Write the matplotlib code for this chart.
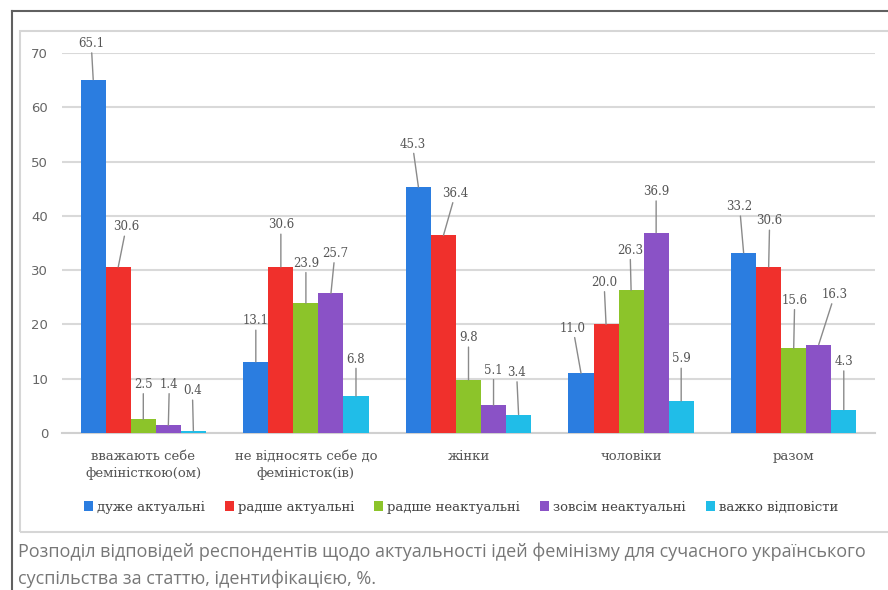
import matplotlib.pyplot as plt
import numpy as np
from matplotlib.lines import Line2D
from matplotlib.patches import Rectangle

groups = ['вважають себе\nфеміністкою(ом)', 'не відносять себе до\nфеміністок(ів)',
          'жінки', 'чоловіки', 'разом']
series = ['дуже актуальні', 'радше актуальні', 'радше неактуальні',
          'зовсім неактуальні', 'важко відповісти']
very = [65.1, 13.1, 45.3, 11.0, 33.2]
rather = [30.6, 30.6, 36.4, 20.0, 30.6]
rather_not = [2.5, 23.9, 9.8, 26.3, 15.6]
not_at_all = [1.4, 25.7, 5.1, 36.9, 16.3]
hard = [0.4, 6.8, 3.4, 5.9, 4.3]
values = [very, rather, rather_not, not_at_all, hard]

colors = ['#2b7de0', '#f0302c', '#8cc42a', '#8a52c6', '#20bde8']

# label offsets in pixels (dx, dy) for the leader-line labels
offsets = [
    [(-2, 36), (0, 41), (-6, 43), (-8, 45), (-4, 46)],
    [(8, 40), (0, 42), (12, 42), (-2, 42), (1, 46)],
    [(0, 35), (0, 40), (0, 42), (-1, 40), (1, 48)],
    [(1, 41), (4, 40), (0, 35), (0, 41), (16, 50)],
    [(-1, 40), (0, 37), (-2, 42), (0, 42), (0, 48)],
]

caption = ('Розподіл відповідей респондентів щодо актуальності ідей фемінізму для сучасного українського\n'
           'суспільства за статтю, ідентифікацією, %.')

W, H = 888, 590
fig = plt.figure(figsize=(W / 100, H / 100), dpi=100)
ax = fig.add_axes([62 / W, 1 - 433 / H, (875 - 62) / W, (433 - 53) / H])

x = np.arange(len(groups))
bw = 0.154
serif = 'DejaVu Serif'
for i, (name, vals) in enumerate(zip(series, values)):
    xs = x + (i - 2) * bw
    ax.bar(xs, vals, bw, color=colors[i], label=name, zorder=3)
    for j, v in enumerate(vals):
        dx, dy = offsets[i][j]
        ax.annotate(f'{v:.1f}', xy=(xs[j], v), xytext=(dx, dy),
                    textcoords='offset pixels', ha='center', va='center',
                    fontsize=8.5, family=serif, color='#555555',
                    arrowprops=dict(arrowstyle='-', color='#8a8a8a', lw=1,
                                    shrinkA=0, shrinkB=0),
                    annotation_clip=False, zorder=4)

ax.set_xlim(-0.5, 4.5)
ax.set_ylim(0, 70)
ax.set_yticks(range(0, 71, 10))
ax.yaxis.grid(True, color='#d9d9d9', lw=1.5, zorder=0)
ax.set_xticks(x)
ax.set_xticklabels(groups, family=serif, fontsize=9.5, color='#555555', linespacing=1.45)
ax.tick_params(length=0)
ax.tick_params(axis='x', pad=12)
ax.tick_params(axis='y', labelsize=9.5, labelcolor='#666666', pad=10)
for s in ['top', 'right', 'left']:
    ax.spines[s].set_visible(False)
ax.spines['bottom'].set_color('#d0d0d0')
ax.spines['bottom'].set_linewidth(1.5)
ax.patch.set_alpha(0)

fig.legend(loc='center', bbox_to_anchor=(461 / W, 1 - 507 / H), ncol=5,
           frameon=False, prop={'family': serif, 'size': 9.5},
           handlelength=0.7, handleheight=0.7, handletextpad=0.3,
           columnspacing=1.5, labelcolor='#444444')

# borders
fig.add_artist(Rectangle((20 / W, 1 - 532 / H), (W - 16) / W, (532 - 31) / H,
                         transform=fig.transFigure, fill=False,
                         ec='#d6d6d6', lw=1.5, zorder=0))
fig.add_artist(Line2D([12 / W, 1], [1 - 11 / H, 1 - 11 / H], color='#606060', lw=1.5))
fig.add_artist(Line2D([12 / W, 12 / W], [0, 1 - 11 / H], color='#606060', lw=1.5))

fig.text(18 / W, 1 - 565 / H, caption, fontsize=13.0, family='Open Sans',
         color='#777777', va='center', linespacing=1.6)

fig.savefig('out.png', dpi=100)
